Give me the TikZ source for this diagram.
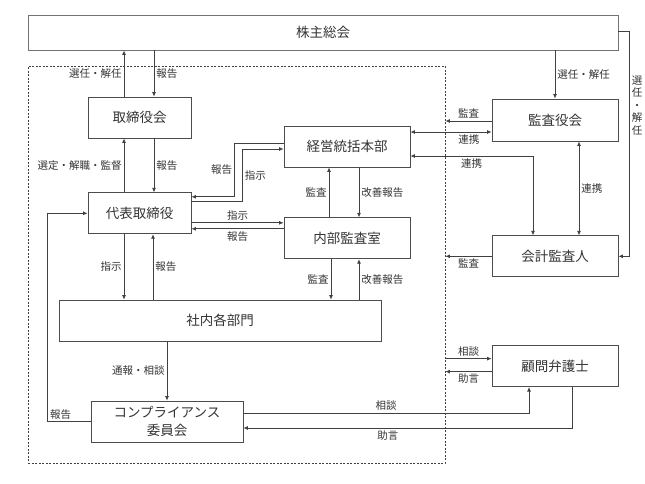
\documentclass[tikz,border=0pt]{standalone}
\usepackage{fontspec}
\setmainfont{Noto Sans CJK JP}
\usetikzlibrary{positioning,arrows.meta}

\begin{document}
\begin{tikzpicture}[x=1pt,y=-1pt,
    box/.style={draw=black!70, line width=0.8pt, text=black!80, minimum height=41, inner sep=0pt, font=\fontsize{13.5}{18}\selectfont},
    waku/.style={draw=black!75, line width=0.8pt, dash pattern=on 2pt off 1.5pt},
    lbl/.style={text=black!80, font=\fontsize{10.5}{12.5}\selectfont, inner sep=2pt},
    arr/.style={draw=black!75, line width=0.8pt, -{Latex[length=4.5pt,width=4pt]}},
    arrs/.style={draw=black!75, line width=0.8pt, {Latex[length=4.5pt,width=4pt]}-{Latex[length=4.5pt,width=4pt]}}]
    \useasboundingbox (0,0) rectangle (645,483);
    \node[waku, minimum width=417, minimum height=397] (kaisha) at (236.5,264.5) {};

    \node[box, minimum width=590, minimum height=35, draw=black!55] (kabunushi) at (323,32.5) {株主総会};
    \node[box, minimum width=103] (torikai) at (139.5,117.5) {取締役会};
    \node[box, minimum width=103, below=54pt of torikai] (daihyo) {代表取締役};
    \node[box, minimum width=126] (keiei) at (347,146.5) {経営統括本部};
    \node[box, minimum width=126, below=50pt of keiei] (naibu) {内部監査室};
    \node[box, minimum width=322] (shanai) at (220,320.5) {社内各部門};
    \node[box, minimum width=152, align=center] (comp) at (167,421.5) {コンプライアンス\\委員会};
    \node[box, minimum width=126, minimum height=42] (kansa) at (555,120) {監査役会};
    \node[box, minimum width=126, below=94pt of kansa] (kaikei) {会計監査人};
    \node[box, minimum width=126, below=68pt of kaikei] (komon) {顧問弁護士};

    \draw[arr] ([xshift=-15.5]torikai.north) -- node[lbl,left]{選任・解任} ([xshift=-15.5]torikai.north |- kabunushi.south);
    \draw[arr] ([xshift=14.5]torikai.north |- kabunushi.south) -- node[lbl,right]{報告} ([xshift=14.5]torikai.north);
    \draw[arr] ([xshift=-15.5]daihyo.north) -- node[lbl,left]{選定・解職・監督} ([xshift=-15.5]torikai.south);
    \draw[arr] ([xshift=14.5]torikai.south) -- node[lbl,right]{報告} ([xshift=14.5]daihyo.north);
    \draw[arr] ([yshift=3.5]keiei.west) -- ++(-49,0) |- node[lbl,pos=0.25,left]{報告} ([yshift=16.5]daihyo.east);
    \draw[arr] ([yshift=11.5]daihyo.east) -- ++(51,0) |- node[lbl,pos=0.25,right]{指示} ([yshift=-2.5]keiei.west);
    \draw[arr] ([yshift=-9.5]daihyo.east) -- node[lbl,above]{指示} ([yshift=-9.5]daihyo.east -| naibu.west);
    \draw[arr] ([yshift=-15.5]daihyo.east -| naibu.west) -- node[lbl,below]{報告} ([yshift=-15.5]daihyo.east);
    \draw[arr] ([xshift=-18]naibu.north) -- node[lbl,left]{監査} ([xshift=-18]keiei.south);
    \draw[arr] ([xshift=12]keiei.south) -- node[lbl,right]{改善報告} ([xshift=12]naibu.north);
    \draw[arr] ([xshift=-16]naibu.south) -- node[lbl,left]{監査} ([xshift=-16]naibu.south |- shanai.north);
    \draw[arr] ([xshift=12]naibu.south |- shanai.north) -- node[lbl,right]{改善報告} ([xshift=12]naibu.south);
    \draw[arr] ([xshift=-15.5]daihyo.south) -- node[lbl,left]{指示} ([xshift=-15.5]daihyo.south |- shanai.north);
    \draw[arr] ([xshift=13.5]daihyo.south |- shanai.north) -- node[lbl,right]{報告} ([xshift=13.5]daihyo.south);
    \draw[arr] (comp.north |- shanai.south) -- node[lbl,left]{通報・相談} (comp.north);
    \draw[arr] (comp.west) -- node[lbl,pos=0.7,above]{報告} ++(-43,0) |- (daihyo.west);
    \draw[arr] ([yshift=8.5]comp.east) -| node[lbl,pos=0.25,above]{相談} ([xshift=-26]komon.south);
    \draw[arr] ([xshift=17]komon.south) |- node[lbl,pos=0.78,below]{助言} ([yshift=-6.5]comp.east);
    \draw[arr] ([yshift=7.5]komon.west -| kaisha.east) -- node[lbl,above]{相談} ([yshift=7.5]komon.west);
    \draw[arr] ([yshift=-5.5]komon.west) -- node[lbl,below]{助言} ([yshift=-5.5]komon.west -| kaisha.east);
    \draw[arr] ([yshift=-1]kansa.west) -- node[lbl,above]{監査} ([yshift=-1]kansa.west -| kaisha.east);
    \draw[arrs] ([yshift=14.5]keiei.east) -- node[lbl,pos=0.72,below]{連携} ([yshift=14.5]keiei.east -| kansa.west);
    \draw[arrs] ([yshift=-9.5]keiei.east) -| node[lbl,pos=0.25,below]{連携} ([xshift=-22]kaikei.north);
    \draw[arrs] ([xshift=24]kansa.south) -- node[lbl,right]{連携} ([xshift=24]kaikei.north);
    \draw[arr] (kaikei.west) -- node[lbl,below]{監査} (kaikei.west -| kaisha.east);
    \draw[arr] (kansa.north |- kabunushi.south) -- node[lbl,right]{選任・解任} (kansa.north);
    \draw[arr] ([yshift=1.5]kabunushi.east) -- ++(11,0) |- node[lbl,pos=0.165,right,align=center]{選\\任\\・\\解\\任} (kaikei.east);
\end{tikzpicture}
\end{document}
